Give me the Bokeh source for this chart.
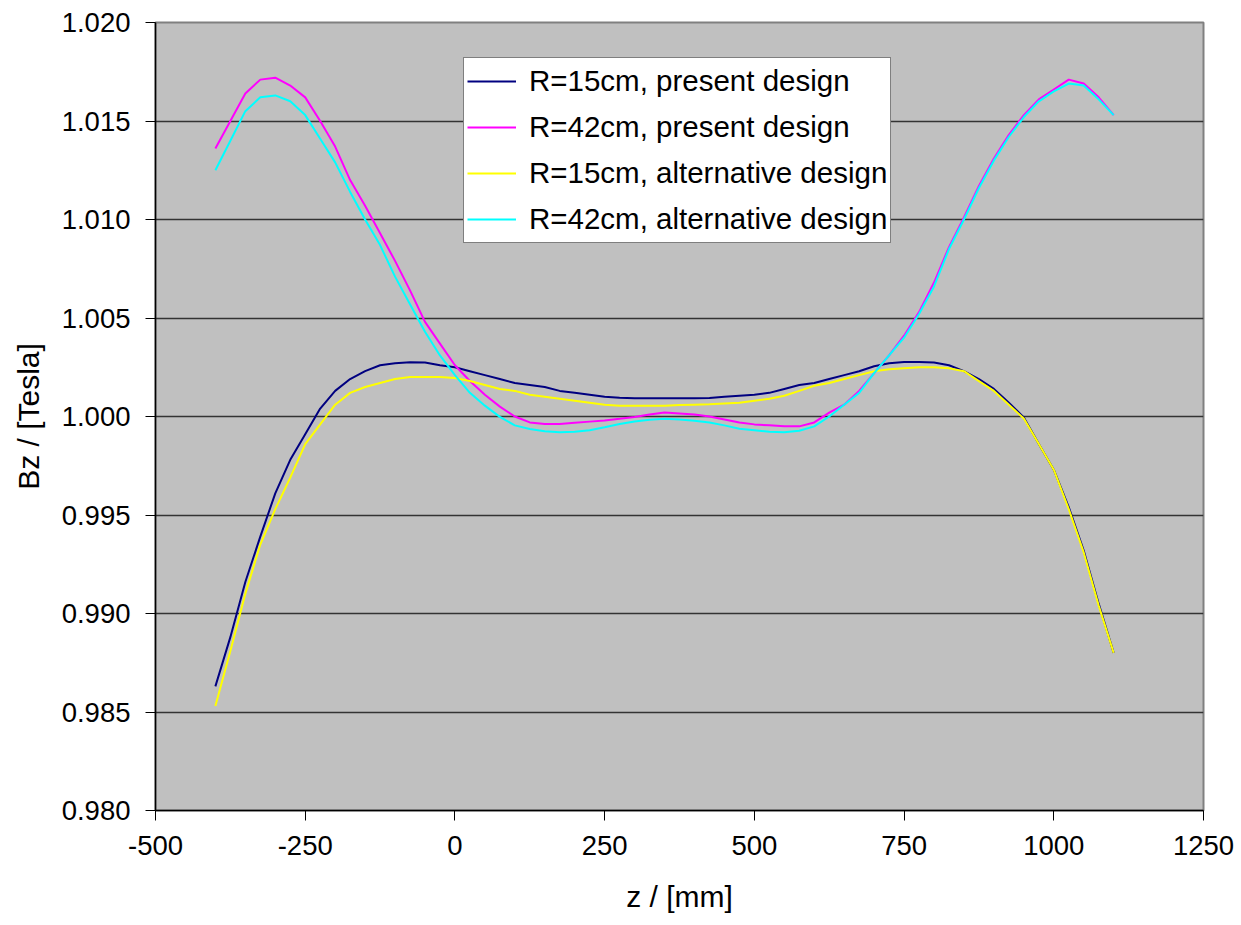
from bokeh.plotting import figure
from bokeh.models import Range1d, FixedTicker, Legend, LegendItem, CustomJSTickFormatter
from bokeh.embed import file_html
from bokeh.resources import INLINE

z_mm = [-400, -375, -350, -325, -300, -275, -250, -225, -200, -175,
        -150, -125, -100, -75, -50, -25, 0, 25, 50, 75,
        100, 125, 150, 175, 200, 225, 250, 275, 300, 325,
        350, 375, 400, 425, 450, 475, 500, 525, 550, 575,
        600, 625, 650, 675, 700, 725, 750, 775, 800, 825,
        850, 875, 900, 925, 950, 975, 1000, 1025, 1050, 1075, 1100]

r15_present = [0.9863, 0.9888, 0.9916, 0.9939, 0.9961, 0.9978, 0.9991, 1.0004, 1.0013, 1.0019,
               1.0023, 1.0026, 1.0027, 1.00275, 1.00274, 1.0026, 1.0025, 1.0023, 1.0021, 1.0019,
               1.0017, 1.0016, 1.0015, 1.0013, 1.0012, 1.0011, 1.0010, 1.00095, 1.00093, 1.00093,
               1.00093, 1.00093, 1.00093, 1.00094, 1.0010, 1.00105, 1.0011, 1.0012, 1.0014, 1.0016,
               1.0017, 1.0019, 1.0021, 1.0023, 1.00255, 1.0027, 1.00277, 1.00277, 1.00274, 1.0026,
               1.0023, 1.0019, 1.0014, 1.0007, 0.99995, 0.9986, 0.9973, 0.9954, 0.9932, 0.9905, 0.9880]

r42_present = [1.0136, 1.0150, 1.0164, 1.0171, 1.0172, 1.0168, 1.0162, 1.0150, 1.0137, 1.0120,
               1.0107, 1.0093, 1.0079, 1.0064, 1.0048, 1.0037, 1.0026, 1.0018, 1.0011, 1.0005,
               1.0000, 0.9997, 0.99962, 0.99962, 0.99968, 0.99974, 0.9998, 0.99988, 0.99998, 1.0001,
               1.0002, 1.00015, 1.0001, 1.0000, 0.99985, 0.9997, 0.9996, 0.99955, 0.9995, 0.9995,
               0.9997, 1.0002, 1.0006, 1.0013, 1.0022, 1.0031, 1.0041, 1.0053, 1.0068, 1.0086,
               1.0101, 1.0117, 1.0131, 1.0143, 1.0153, 1.0161, 1.0166, 1.0171, 1.0169, 1.0162, 1.0153]

r15_alternative = [0.9853, 0.9881, 0.9910, 0.9935, 0.9953, 0.9969, 0.9986, 0.9996, 1.0006, 1.0012,
                   1.0015, 1.0017, 1.0019, 1.0020, 1.0020, 1.0020, 1.00195, 1.0018, 1.0016, 1.0014,
                   1.0013, 1.0011, 1.0010, 1.0009, 1.0008, 1.0007, 1.0006, 1.00055, 1.00054, 1.00054,
                   1.00055, 1.00058, 1.0006, 1.00062, 1.00066, 1.0007, 1.0008, 1.0009, 1.00105, 1.0013,
                   1.00156, 1.0017, 1.0019, 1.0021, 1.0023, 1.0024, 1.00245, 1.0025, 1.0025, 1.00245,
                   1.0023, 1.0018, 1.0013, 1.0006, 0.9999, 0.9986, 0.9973, 0.9953, 0.9931, 0.9904, 0.9880]

r42_alternative = [1.0125, 1.0140, 1.0155, 1.0162, 1.0163, 1.0160, 1.0153, 1.0141, 1.0129, 1.0114,
                   1.0100, 1.0087, 1.0071, 1.0057, 1.0043, 1.0031, 1.0021, 1.0012, 1.00055, 0.99998,
                   0.99955, 0.99937, 0.99925, 0.9992, 0.99922, 0.9993, 0.99945, 0.99962, 0.99975, 0.99983,
                   0.99988, 0.99985, 0.99978, 0.9997, 0.99955, 0.99938, 0.9993, 0.99922, 0.9992, 0.99928,
                   0.9995, 1.0000, 1.0006, 1.0012, 1.0022, 1.0031, 1.0040, 1.0052, 1.0066, 1.0085,
                   1.0100, 1.0116, 1.0130, 1.0142, 1.0152, 1.0160, 1.0165, 1.0169, 1.0168, 1.0161, 1.0153]

series_labels = ["R=15cm, present design", "R=42cm, present design",
                 "R=15cm, alternative design", "R=42cm, alternative design"]
series_colors = ["#000080", "#FF00FF", "#FFFF00", "#00FFFF"]

x_ticks = [-500, -250, 0, 250, 500, 750, 1000, 1250]
y_ticks = [0.980, 0.985, 0.990, 0.995, 1.000, 1.005, 1.010, 1.015, 1.020]

FONT = "Liberation Sans"

p = figure(width=1241, height=925, output_backend="svg", toolbar_location=None,
           x_range=Range1d(-500, 1250), y_range=Range1d(0.980, 1.020),
           min_border_left=155, min_border_right=38, min_border_top=22, min_border_bottom=115)
p.background_fill_color = "#C0C0C0"
p.border_fill_color = "white"
p.outline_line_color = "#808080"
p.outline_line_width = 2

p.xgrid.grid_line_color = None
p.ygrid.grid_line_color = "#333333"
p.ygrid.grid_line_width = 1.5
p.ygrid.ticker = FixedTicker(ticks=y_ticks)

p.xaxis.ticker = FixedTicker(ticks=x_ticks)
p.yaxis.ticker = FixedTicker(ticks=y_ticks)
p.xaxis.formatter = CustomJSTickFormatter(code="return String(Math.round(tick));")
p.yaxis.formatter = CustomJSTickFormatter(code="return tick.toFixed(3);")

for ax in (p.xaxis[0], p.yaxis[0]):
    ax.axis_line_color = "black"
    ax.axis_line_width = 1.5
    ax.major_tick_line_color = "black"
    ax.major_tick_out = 10
    ax.major_tick_in = 0
    ax.minor_tick_line_color = None
    ax.major_label_text_font = FONT
    ax.major_label_text_font_size = "27.5px"
    ax.major_label_text_color = "black"
    ax.axis_label_text_font = FONT
    ax.axis_label_text_font_size = "30px"
    ax.axis_label_text_font_style = "normal"
    ax.axis_label_text_color = "black"

p.xaxis.axis_label = "z / [mm]"
p.yaxis.axis_label = "Bz / [Tesla]"
p.xaxis.major_label_standoff = 15
p.yaxis.major_label_standoff = 15
p.xaxis.axis_label_standoff = 22
p.yaxis.axis_label_standoff = 14

series = [r15_present, r42_present, r15_alternative, r42_alternative]
renderers = []
for ys, col in zip(series, series_colors):
    r = p.line(z_mm, ys, line_color=col, line_width=2)
    renderers.append(r)

legend = Legend(items=[LegendItem(label=lab, renderers=[r]) for lab, r in zip(series_labels, renderers)],
                location=(308, 567))
legend.label_text_font = FONT
legend.label_text_font_size = "29.5px"
legend.label_text_color = "black"
legend.glyph_width = 49
legend.glyph_height = 40
legend.spacing = 6
legend.padding = 3
legend.margin = 0
legend.label_standoff = 13
legend.border_line_color = "black"
legend.border_line_width = 1
legend.background_fill_color = "white"
legend.background_fill_alpha = 1.0
p.add_layout(legend, "center")

open("out.html", "w").write(file_html(p, INLINE))
